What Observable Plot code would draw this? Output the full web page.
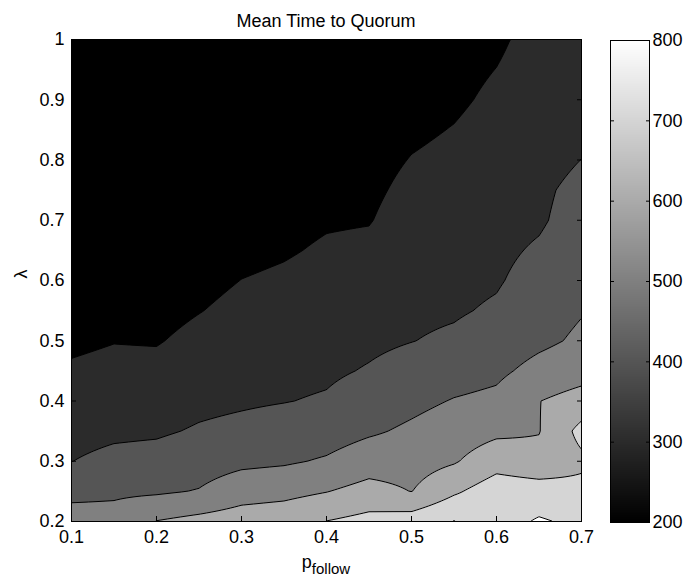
<!DOCTYPE html>
<html><head><meta charset="utf-8">
<script src="https://cdn.jsdelivr.net/npm/d3@7"></script>
<script src="https://cdn.jsdelivr.net/npm/@observablehq/plot@0.6"></script>
<style>
html,body{margin:0;padding:0;background:#fff;}
#chart{position:relative;width:686px;height:583px;overflow:hidden;}
#chart svg{position:absolute;left:0;top:0;}
</style></head><body><div id="chart"></div>
<script>
// grid axes
const pFollow = [0.1, 0.15, 0.2, 0.25, 0.3, 0.35, 0.4, 0.45, 0.5, 0.55, 0.6, 0.65, 0.7];
const lambda = [0.2, 0.25, 0.3, 0.35, 0.4, 0.45, 0.5, 0.55, 0.6, 0.65, 0.7, 0.75, 0.8, 0.85, 0.9, 0.95, 1.0];
// mean time to quorum, one list per p_follow column (values along lambda, bottom to top)
const meanTimeP010 = [546,472,399,370,341,312,283,265,250,240,232,225,220,215,212,208,205];
const meanTimeP015 = [541,482,424,383,354,325,297,275,258,246,237,230,224,219,215,211,207];
const meanTimeP020 = [603,487,433,388,356,325,294,272,256,245,236,229,223,218,214,210,206];
const meanTimeP025 = [630,505,456,409,378,351,324,297,277,262,250,241,233,227,222,217,213];
const meanTimeP030 = [652,556,478,424,388,366,344,322,301,280,265,254,245,238,232,227,222];
const meanTimeP035 = [664,570,488,441,397,376,355,334,313,292,277,265,255,247,240,234,229];
const meanTimeP040 = [702,597,510,457,409,385,366,348,329,310,292,280,270,261,253,246,240];
const meanTimeP045 = [731,635,552,487,447,407,382,361,339,317,296,285,275,266,258,251,245];
const meanTimeP050 = [750,598,557,516,476,436,398,382,367,351,335,319,303,287,276,267,259];
const meanTimeP055 = [803,685,591,548,505,460,415,390,376,361,347,332,318,303,288,279,271];
const meanTimeP060 = [760,755,661,579,522,480,446,412,391,379,366,353,340,327,314,301,288];
const meanTimeP065 = [810,747,630,596,598,530,480,463,437,412,387,380,360,350,342,333,325];
const meanTimeP070 = [780,730,680,730,640,560,515,495,478,460,445,430,401,385,372,360,350];
const meanTime = [meanTimeP010, meanTimeP015, meanTimeP020, meanTimeP025, meanTimeP030, meanTimeP035,
  meanTimeP040, meanTimeP045, meanTimeP050, meanTimeP055, meanTimeP060, meanTimeP065, meanTimeP070];

const contourLevels = [300, 400, 500, 600, 700, 800];
const xTicks = [0.1, 0.2, 0.3, 0.4, 0.5, 0.6, 0.7];
const yTicks = [0.2, 0.3, 0.4, 0.5, 0.6, 0.7, 0.8, 0.9, 1];
const colorTicks = [200, 300, 400, 500, 600, 700, 800];
const titleText = "Mean Time to Quorum";

// bilinear lookup in the measured grid
function meanTimeAt(x, y) {
  const nx = pFollow.length, ny = lambda.length;
  let fx = (x - pFollow[0]) / (pFollow[nx - 1] - pFollow[0]) * (nx - 1);
  let fy = (y - lambda[0]) / (lambda[ny - 1] - lambda[0]) * (ny - 1);
  fx = Math.max(0, Math.min(nx - 1, fx));
  fy = Math.max(0, Math.min(ny - 1, fy));
  const i = Math.min(nx - 2, Math.floor(fx)), j = Math.min(ny - 2, Math.floor(fy));
  const tx = fx - i, ty = fy - j;
  const a = meanTime[i][j], b = meanTime[i + 1][j], c = meanTime[i][j + 1], d = meanTime[i + 1][j + 1];
  return a * (1 - tx) * (1 - ty) + b * tx * (1 - ty) + c * (1 - tx) * ty + d * tx * ty;
}

const W = 686, H = 583;
const font = "'Liberation Sans',Arial,sans-serif";
const color = {type: "linear", domain: [200, 800], range: ["black", "white"], interpolate: "rgb"};
const style = {fontFamily: font, fontSize: "18px", background: "transparent", color: "black", overflow: "visible"};

const main = Plot.plot({
  width: W, height: H,
  marginLeft: 71, marginRight: 105, marginTop: 39, marginBottom: 62,
  style,
  x: {domain: [0.1, 0.7]},
  y: {domain: [0.2, 1]},
  color,
  marks: [
    Plot.frame({fill: "black"}),
    Plot.contour({fill: meanTimeAt, x1: 0.1, x2: 0.7, y1: 0.2, y2: 1, thresholds: contourLevels,
      stroke: "black", strokeWidth: 1, pixelSize: 1}),
    Plot.axisX(xTicks, {anchor: "bottom", tickSize: 0, tickPadding: 9, label: null, tickFormat: d => String(d)}),
    Plot.axisX(xTicks, {anchor: "bottom", tickSize: -5, tickFormat: () => "", label: null}),
    Plot.axisX(xTicks, {anchor: "top", tickSize: -5, tickFormat: () => "", label: null}),
    Plot.axisY(yTicks, {anchor: "left", tickSize: 0, tickPadding: 7, label: null, tickFormat: d => String(d)}),
    Plot.axisY(yTicks, {anchor: "left", tickSize: -5, tickFormat: () => "", label: null}),
    Plot.axisY(yTicks, {anchor: "right", tickSize: -5, tickFormat: () => "", label: null}),
    Plot.frame({stroke: "black"})
  ]
});

const bar = Plot.plot({
  width: W, height: H,
  marginLeft: 610, marginRight: 37, marginTop: 40, marginBottom: 61,
  style,
  x: {domain: [0, 1], axis: null},
  y: {domain: [200, 800]},
  color,
  marks: [
    Plot.raster({fill: (x, y) => y, x1: 0, x2: 1, y1: 200, y2: 800, pixelSize: 1}),
    Plot.axisY(colorTicks, {anchor: "right", tickSize: 0, tickPadding: 3, label: null}),
    Plot.axisY(colorTicks, {anchor: "right", tickSize: -4, tickFormat: () => "", label: null}),
    Plot.axisY(colorTicks, {anchor: "left", tickSize: -4, tickFormat: () => "", label: null}),
    Plot.frame({stroke: "black"})
  ]
});

const root = document.getElementById("chart");
root.appendChild(main);
root.appendChild(bar);

const svg = d3.select(main);
svg.append("text").attr("x", 326).attr("y", 22).attr("text-anchor", "middle")
  .attr("dominant-baseline", "middle").style("font-family", font).style("font-size", "18px")
  .attr("fill", "black").text(titleText);
const xl = svg.append("text").attr("x", 326).attr("y", 568).attr("text-anchor", "middle")
  .style("font-family", font).style("font-size", "18px").attr("fill", "black");
xl.append("tspan").text("p");
xl.append("tspan").attr("dy", 6).style("font-size", "15px").text("follow");
svg.append("text").attr("transform", "translate(22,274) rotate(-90)").attr("text-anchor", "middle")
  .attr("dominant-baseline", "middle").style("font-family", font).style("font-size", "18px")
  .attr("fill", "black").text("λ");
</script></body></html>
